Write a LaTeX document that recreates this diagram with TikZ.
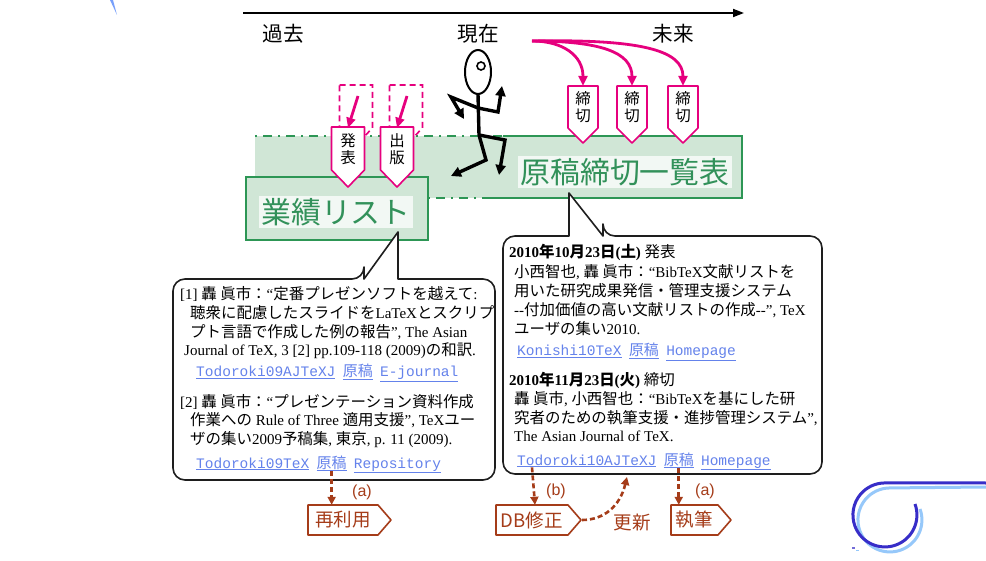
\documentclass[tikz,border=0pt]{standalone}
\usepackage{fontspec}
\setmainfont{Liberation Serif}
\setsansfont{Liberation Sans}
\setmonofont{Liberation Mono}
\newfontfamily\jpf[Scale=1.03]{Noto Sans CJK JP}
\newfontfamily\arialf{Liberation Sans}
\usetikzlibrary{arrows.meta}

\definecolor{pinkc}{RGB}{230,0,126}
\definecolor{gline}{RGB}{45,150,85}
\definecolor{gtext}{RGB}{50,145,90}
\definecolor{halftone}{RGB}{208,230,214}
\definecolor{textbg}{RGB}{242,248,244}
\definecolor{brownc}{RGB}{165,60,25}
\definecolor{linkblue}{RGB}{100,130,235}
\definecolor{logodark}{RGB}{55,45,200}
\definecolor{logolight}{RGB}{150,200,250}
\definecolor{boxline}{RGB}{30,30,30}

% Japanese run, link in mono, link in Japanese
\newcommand\JP[1]{{\jpf #1}}
\newcommand\lnk[1]{{\color{linkblue}\underline{\ttfamily #1}}}
\newcommand\lnkj[1]{{\color{linkblue}\underline{\jpf #1}}}

% shield pointing down: style, centre x, top y, half width, side height, tip depth
\newcommand\tagdown[6]{\draw[#1] ({#2-#4},#3) -- ({#2+#4},#3) -- ({#2+#4},{#3+#5}) -- (#2,{#3+#5+#6}) -- ({#2-#4},{#3+#5}) -- cycle;}
% tag pointing right: style, left x, top y, width, height, tip depth
\newcommand\tagright[6]{\draw[#1] (#2,#3) -- ({#2+#4},#3) -- ({#2+#4+#6},{#3+#5/2}) -- ({#2+#4},{#3+#5}) -- (#2,{#3+#5}) -- cycle;}

\begin{document}
\begin{tikzpicture}[x=1pt,y=-1pt,
  era/.style={inner sep=0pt, font=\jpf\fontsize{20}{22}\selectfont},
  greenbox/.style={draw=gline, line width=2pt},
  greendash/.style={draw=gline, line width=2pt, dash pattern=on 2pt off 6pt on 9pt off 6pt},
  bigtitle/.style={inner sep=2pt, fill=textbg, text=gtext, font=\jpf\fontsize{29}{30}\selectfont},
  pinkline/.style={draw=pinkc, line width=1.6pt, fill=white, line join=round},
  pinkdash/.style={draw=pinkc, line width=1.6pt, dash pattern=on 6pt off 4pt},
  pinkarrow/.style={draw=pinkc, line width=2.8pt, -{Triangle[length=10pt,width=9pt]}},
  tagtext/.style={inner sep=0pt, minimum width=30pt, minimum height=42pt, align=center, font=\jpf\fontsize{15}{17}\selectfont},
  callout/.style={draw=boxline, line width=1.6pt, fill=white, line join=round},
  ln/.style={anchor=base west, inner sep=0pt, font=\fontsize{15}{18}\selectfont},
  lk/.style={anchor=base west, inner sep=0pt, font=\fontsize{14.5}{18}\selectfont},
  brownline/.style={draw=brownc, line width=1.6pt, fill=white, line join=round},
  browntext/.style={inner sep=0pt, minimum height=30pt, text=brownc, font=\jpf\fontsize{18}{20}\selectfont},
  brownarrow/.style={draw=brownc, line width=2.6pt, dash pattern=on 5pt off 3pt, -{Triangle[length=8pt,width=8pt]}},
  brownlabel/.style={inner sep=0pt, text=brownc, font=\arialf\fontsize{16}{18}\selectfont},
  fig/.style={draw=black, line width=3.4pt, line join=miter},
  figarrow/.style={fig, -{Triangle[length=10pt,width=10pt]}}
]
\fill[white] (0,0) rectangle (986,561);
\useasboundingbox (0,0) rectangle (986,561);

% ---- time axis ----
\coordinate (tl0) at (243,13);
\coordinate (tl1) at (744,13);
\draw[line width=1.8pt, -{Triangle[length=11pt,width=8pt]}] (tl0) -- (tl1);
\node[era] (past) at (283,34) {過去};
\node[era] (now) at (478,34) {現在};
\node[era] (future) at (673,34) {未来};

% ---- green band: publication list and deadline list ----
\fill[halftone] (255,136) rectangle (742,198);
\draw[greenbox] (503,136) -- (742,136) -- (742,198) -- (482,198);
\draw[greendash] (255,136) -- (503,136);
\draw[greendash] (428,198) -- (482,198);
\draw[greenbox, fill=halftone] (246,177) rectangle (428,240);
\node[bigtitle] (gyoseki) at (336,212) {業績リスト};
\node[bigtitle] (genko) at (625,172) {原稿締切一覧表};

% ---- past events: ghost tags and placed tags ----
\tagdown{pinkdash}{356}{85}{16.5}{43}{17}
\tagdown{pinkdash}{406}{85}{16.5}{43}{17}
\tagdown{pinkline}{348}{127}{16.5}{43}{17}
\tagdown{pinkline}{397}{127}{16.5}{43}{17}
\node[tagtext] (hap) at (348,149) {発\\表};
\node[tagtext] (pub) at (397,149) {出\\版};
\coordinate (hapsrc) at (358,96);
\coordinate (pubsrc) at (407,96);
\draw[pinkarrow] (hapsrc) -- (hap.north);
\draw[pinkarrow] (pubsrc) -- (pub.north);

% ---- future deadlines ----
\tagdown{pinkline}{583}{86}{15}{42}{15}
\tagdown{pinkline}{632}{86}{15}{42}{15}
\tagdown{pinkline}{683}{86}{15}{42}{15}
\node[tagtext] (dl1) at (583,107) {締\\切};
\node[tagtext] (dl2) at (632,107) {締\\切};
\node[tagtext] (dl3) at (683,107) {締\\切};
\coordinate (nowR) at (532,41);
\draw[pinkarrow] (nowR) .. controls (562,41) and (583,55) .. (dl1.north);
\draw[pinkarrow] (nowR) .. controls (600,41) and (632,52) .. (dl2.north);
\draw[pinkarrow] (nowR) .. controls (640,39) and (683,50) .. (dl3.north);

% ---- callout: publication list entries ----
\draw[callout] (364,279) -- (398,232) -- (398,279) -- (440,279) [rounded corners=12pt] -- (495,279) -- (495,480) -- (173,480) -- (173,279) -- (364,279) [sharp corners] -- cycle;
\node[ln] (p1a) at (180,300) {[1] \JP{轟 眞市：}“\JP{定番プレゼンソフトを越えて}:};
\node[ln] (p1b) at (190,319) {\JP{聴衆に配慮したスライドを}LaTeX\JP{とスクリプ}};
\node[ln] (p1c) at (190,338) {\JP{プト言語で作成した例の報告}”, The Asian};
\node[ln] (p1d) at (184,356) {Journal of TeX, 3 [2] pp.109-118 (2009)\JP{の和訳}.};
\node[lk] (k1a) at (196,377) {\lnk{Todoroki09AJTeXJ}};
\node[lk] (k1b) at ([xshift=7pt]k1a.base east) {\lnkj{原稿}};
\node[lk] (k1c) at ([xshift=7pt]k1b.base east) {\lnk{E-journal}};
\node[ln] (p2a) at (180,407) {[2] \JP{轟 眞市：}“\JP{プレゼンテーション資料作成}};
\node[ln] (p2b) at (190,426) {\JP{作業への} Rule of Three \JP{適用支援}”, TeX\JP{ユー}};
\node[ln] (p2c) at (190,445) {\JP{ザの集い}2009\JP{予稿集}, \JP{東京}, p. 11 (2009).};
\node[lk] (k2a) at (196,468) {\lnk{Todoroki09TeX}};
\node[lk] (k2b) at ([xshift=7pt]k2a.base east) {\lnkj{原稿}};
\node[lk] (k2c) at ([xshift=7pt]k2b.base east) {\lnk{Repository}};

% ---- callout: deadline list entries ----
\draw[callout] (603,236) -- (569,193) -- (569,236) -- (545,236) [rounded corners=12pt] -- (503,236) -- (503,474) -- (822,474) -- (822,236) -- (603,236) [sharp corners] -- cycle;
\node[ln] (d1a) at (509,258) {\textbf{2010\JP{年}10\JP{月}23\JP{日}(\JP{土})} \JP{発表}};
\node[ln] (d1b) at (514,278) {\JP{小西智也}, \JP{轟 眞市：}“BibTeX\JP{文献リストを}};
\node[ln] (d1c) at (514,297) {\JP{用いた研究成果発信・管理支援システム}};
\node[ln] (d1d) at (514,316) {-{}-\JP{付加価値の高い文献リストの作成}-{}-”, TeX};
\node[ln] (d1e) at (514,335) {\JP{ユーザの集い}2010.};
\node[lk] (k3a) at (517,356) {\lnk{Konishi10TeX}};
\node[lk] (k3b) at ([xshift=7pt]k3a.base east) {\lnkj{原稿}};
\node[lk] (k3c) at ([xshift=7pt]k3b.base east) {\lnk{Homepage}};
\node[ln] (d2a) at (509,386) {\textbf{2010\JP{年}11\JP{月}23\JP{日}(\JP{火})} \JP{締切}};
\node[ln] (d2b) at (514,405) {\JP{轟 眞市}, \JP{小西智也：}“BibTeX\JP{を基にした研}};
\node[ln] (d2c) at (514,424) {\JP{究者のための執筆支援・進捗管理システム}”,};
\node[ln] (d2d) at (514,442) {The Asian Journal of TeX.};
\node[lk] (k4a) at (517,465) {\lnk{Todoroki10AJTeXJ}};
\node[lk] (k4b) at ([xshift=7pt]k4a.base east) {\lnkj{原稿}};
\node[lk] (k4c) at ([xshift=7pt]k4b.base east) {\lnk{Homepage}};

% ---- actions ----
\tagright{brownline}{308}{505}{70}{30}{13}
\tagright{brownline}{496}{505}{72}{30}{13}
\tagright{brownline}{671}{505}{47}{30}{13}
\node[browntext] (reuse) at (343,520) {再利用};
\node[browntext] (dbfix) at (532,520) {DB修正};
\node[browntext] (write) at (694,520) {執筆};
\draw[brownarrow] (k2b.south) -- (k2b.south |- reuse.north);
\draw[brownarrow] (dbfix.north |- k4a.south) -- ([xshift=3pt]dbfix.north);
\draw[brownarrow] (k4b.south) -- (k4b.south |- write.north);
\node[brownlabel] (la1) at (362,492) {(a)};
\node[brownlabel] (lb) at (556,491) {(b)};
\node[brownlabel] (la2) at (705,491) {(a)};
\coordinate (dbtip) at (582,520);
\coordinate (updtop) at (627,477);
\draw[brownarrow] (dbtip) .. controls (604,520) and (620,506) .. (updtop);
\node[browntext] (update) at (632,523) {更新};

% ---- stick figure ----
\draw[draw=black, line width=2pt] (478,72) ellipse [x radius=13, y radius=22];
\draw[draw=black, line width=1.6pt] (481,66) circle [radius=4];
\draw[fig] (478,94) -- (479,135);
\draw[figarrow] (478,108) -- (451,97) -- (464,119);
\draw[figarrow] (478,108) -- (498,112) -- (502,86);
\draw[figarrow] (479,135) -- (505,140) -- (499,175);
\draw[figarrow] (479,135) -- (486,160) -- (451,176);

% ---- corner ornaments ----
\fill[logolight!80!blue] (110,0) -- (113,0) -- (117,15) -- cycle;
\draw[logolight, line width=3pt] (920,509) arc[start angle=-20, end angle=270, radius=32] -- (986,487);
\draw[logodark, line width=3pt] (915,504) arc[start angle=-20, end angle=270, radius=32] -- (986,483);
\fill[logodark!70] (852,547) rectangle (855,549);
\fill[logolight] (856,550) rectangle (859,551);
\end{tikzpicture}
\end{document}
